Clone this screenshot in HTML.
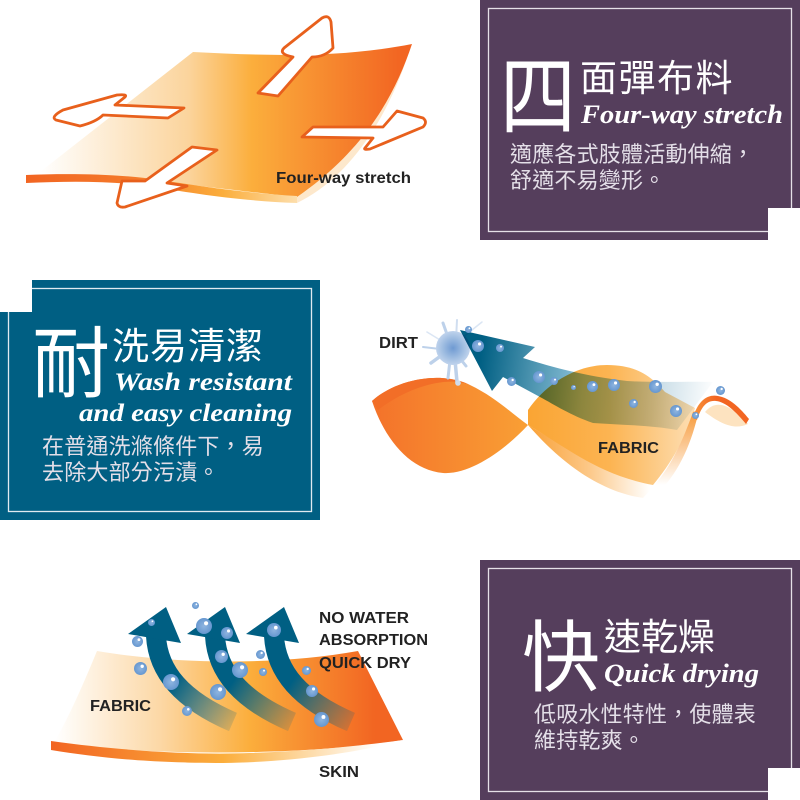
<!DOCTYPE html>
<html lang="zh-TW"><head><meta charset="utf-8"><style>
html,body{margin:0;padding:0;background:#fff}
svg{display:block}
.cjk{font-family:"Liberation Sans","Noto Sans CJK TC",sans-serif;fill:#fff}
.en{font-family:"Liberation Serif",serif;font-style:italic;font-weight:bold;fill:#fff}
.lb{font-family:"Liberation Sans",sans-serif;font-weight:bold;font-size:16px;fill:#222}
.body{font-size:22px;letter-spacing:.2px;fill:#e4dfe8}
</style></head><body>
<svg width="800" height="800" viewBox="0 0 800 800" xmlns="http://www.w3.org/2000/svg">
<defs>
<linearGradient id="g1" gradientUnits="userSpaceOnUse" x1="40" y1="0" x2="412" y2="0">
<stop offset="0" stop-color="#fff"/><stop offset=".4" stop-color="#fbd49c"/><stop offset=".57" stop-color="#fbae3c"/><stop offset=".97" stop-color="#f26522"/></linearGradient>
<linearGradient id="g1b" gradientUnits="userSpaceOnUse" x1="26" y1="0" x2="300" y2="0">
<stop offset="0" stop-color="#f26522"/><stop offset=".4" stop-color="#f47a2a"/><stop offset=".72" stop-color="#fbae3c"/><stop offset="1" stop-color="#fde0b0"/></linearGradient>
<linearGradient id="g2" gradientUnits="userSpaceOnUse" x1="372" y1="0" x2="530" y2="0">
<stop offset="0" stop-color="#f4722a"/><stop offset="1" stop-color="#f9a035"/></linearGradient>
<linearGradient id="g2r" gradientUnits="userSpaceOnUse" x1="530" y1="0" x2="690" y2="0">
<stop offset="0" stop-color="#faa534"/><stop offset=".5" stop-color="#fcb452"/><stop offset="1" stop-color="#fddcae"/></linearGradient>
<linearGradient id="g2b" gradientUnits="userSpaceOnUse" x1="528" y1="0" x2="650" y2="0">
<stop offset="0" stop-color="#f9a035"/><stop offset=".5" stop-color="#fcc888"/><stop offset="1" stop-color="#fff"/></linearGradient>
<linearGradient id="g2e" gradientUnits="userSpaceOnUse" x1="0" y1="485" x2="0" y2="412">
<stop offset="0" stop-color="#fff"/><stop offset="1" stop-color="#f79a3a"/></linearGradient>
<linearGradient id="g2s" gradientUnits="userSpaceOnUse" x1="695" y1="0" x2="748" y2="0">
<stop offset="0" stop-color="#f7903a"/><stop offset=".4" stop-color="#f26522"/></linearGradient>
<linearGradient id="ga" gradientUnits="userSpaceOnUse" x1="480" y1="360" x2="715" y2="390">
<stop offset="0" stop-color="#005f83"/><stop offset=".22" stop-color="#4a92ae"/><stop offset=".45" stop-color="#8fc4dc"/><stop offset=".75" stop-color="#c7dce6"/><stop offset="1" stop-color="#fff"/></linearGradient>
<linearGradient id="g3" gradientUnits="userSpaceOnUse" x1="55" y1="0" x2="403" y2="0">
<stop offset="0" stop-color="#fff"/><stop offset=".3" stop-color="#fcd8a6"/><stop offset=".56" stop-color="#fbae3c"/><stop offset=".92" stop-color="#f26522"/></linearGradient>
<linearGradient id="g3s" gradientUnits="userSpaceOnUse" x1="51" y1="0" x2="395" y2="0">
<stop offset="0" stop-color="#f26522"/><stop offset=".5" stop-color="#fbae3c"/><stop offset=".95" stop-color="#fff"/></linearGradient>
<linearGradient id="a1" gradientUnits="userSpaceOnUse" x1="175" y1="680" x2="237" y2="722">
<stop offset="0" stop-color="#005f83"/><stop offset="1" stop-color="#005f83" stop-opacity=".12"/></linearGradient>
<linearGradient id="a2" gradientUnits="userSpaceOnUse" x1="234" y1="680" x2="296" y2="722">
<stop offset="0" stop-color="#005f83"/><stop offset="1" stop-color="#005f83" stop-opacity=".12"/></linearGradient>
<linearGradient id="a3" gradientUnits="userSpaceOnUse" x1="293" y1="680" x2="355" y2="722">
<stop offset="0" stop-color="#005f83"/><stop offset="1" stop-color="#005f83" stop-opacity=".12"/></linearGradient>
<radialGradient id="sp" gradientUnits="userSpaceOnUse" cx="453" cy="348" r="18">
<stop offset="0" stop-color="#6f9ad2"/><stop offset=".6" stop-color="#a2bfe2"/><stop offset="1" stop-color="#c4d6ee"/></radialGradient>
<radialGradient id="b" cx=".5" cy=".5" r=".55">
<stop offset="0" stop-color="#8fb5e0"/><stop offset="1" stop-color="#6294ce"/></radialGradient>
<symbol id="bu" viewBox="-10 -10 20 20" overflow="visible">
<circle r="10" fill="url(#b)"/><circle cx="2.600" cy="-3.400" r="2.600" fill="#fff"/>
</symbol>
</defs>

<!-- Panels -->
<rect x="480" y="0" width="320" height="240" fill="#553e5c"/>
<rect x="488.500" y="8.500" width="303" height="223" fill="none" stroke="#e6e1e8" stroke-width="1.300"/>
<rect x="768" y="208" width="32" height="32" fill="#fff"/>

<rect x="0" y="280" width="320" height="240" fill="#005f83"/>
<rect x="8.500" y="288.500" width="303" height="223" fill="none" stroke="#dfeaf0" stroke-width="1.300"/>
<rect x="0" y="280" width="32" height="32" fill="#fff"/>

<rect x="480" y="560" width="320" height="240" fill="#553e5c"/>
<rect x="488.500" y="568.500" width="303" height="223" fill="none" stroke="#e6e1e8" stroke-width="1.300"/>
<rect x="768" y="768" width="32" height="32" fill="#fff"/>

<!-- Panel 1 text -->
<text class="cjk" transform="translate(500,128) scale(.95,1.100)" font-size="80">四</text>
<text class="cjk" x="580" y="91" font-size="37" letter-spacing="1.500">面彈布料</text>
<text class="en" x="581" y="123" font-size="26.500" textLength="202" lengthAdjust="spacingAndGlyphs">Four-way stretch</text>
<text class="cjk body" x="510" y="162">適應各式肢體活動伸縮，</text>
<text class="cjk body" x="510" y="188">舒適不易變形。</text>

<!-- Panel 3 text -->
<text class="cjk" x="32" y="391" font-size="78">耐</text>
<text class="cjk" x="112" y="359" font-size="37" letter-spacing="1">洗易清潔</text>
<text class="en" x="114" y="390" font-size="25.500" textLength="178" lengthAdjust="spacingAndGlyphs">Wash resistant</text>
<text class="en" x="79" y="421" font-size="25.500" textLength="213" lengthAdjust="spacingAndGlyphs">and easy cleaning</text>
<text class="cjk body" x="42" y="454">在普通洗滌條件下，易</text>
<text class="cjk body" x="42" y="480">去除大部分污漬。</text>

<!-- Panel 4 text -->
<text class="cjk" x="522" y="685" font-size="78">快</text>
<text class="cjk" x="604" y="650" font-size="37" letter-spacing="0">速乾燥</text>
<text class="en" x="604" y="682" font-size="26" textLength="155" lengthAdjust="spacingAndGlyphs">Quick drying</text>
<text class="cjk body" x="534" y="722">低吸水性特性，使體表</text>
<text class="cjk body" x="534" y="748">維持乾爽。</text>

<!-- Diagram 1 -->
<path d="M297,196 L297,203 C345,180 385,125 408,55 L380,100 Z" fill="#fde8cc"/>
<path d="M193,52 C270,56 340,58 412,44 C395,95 365,150 297,197 C230,190 170,182 130,178 C100,176 70,176 40,172 Z" fill="url(#g1)"/>
<path d="M26,175 C70,173 120,174 160,180 L200,186 C235,191 265,194 297,196 L297,203 C240,201 190,193 150,186 C110,181 70,181 26,183 Z" fill="url(#g1b)"/>
<g fill="#fff" stroke="#e8601c" stroke-width="2.800" stroke-linejoin="round">
<path d="M258,93 L278,96 L312,57 Q325,57 333,48 L331,22 Q329,14 322,18 L284,48 Q278,54 293,57 Z"/>
<path d="M184,108 L168,118 L103,115 Q96,122 80,126 L56,120 Q50,117 63,110 L117,95 Q128,94 125,97 L115,105 Z"/>
<path d="M302,137 L313,127 L383,127 L397,111 L423,118 Q428,122 423,127 L370,149 Q363,150 365,148 L373,138 Z"/>
<path d="M217,150 L192,147 L145,181 L122,181 L117,203 Q118,208 125,207 L187,186 L167,183 Z"/>
</g>
<text class="lb" x="276" y="183" textLength="135" lengthAdjust="spacingAndGlyphs">Four-way stretch</text>

<!-- Diagram 2 fabric -->
<path d="M528,425 C550,450 590,490 643,498 L655,485 C610,475 570,450 528,425 Z" fill="url(#g2b)"/>
<path d="M528,410 C545,385 575,365 607,365 C635,365 650,375 665,392 L695,408 C688,435 670,465 653,485 C600,475 570,450 528,425 Z" fill="url(#g2r)"/>
<path d="M653,487 C672,465 683,440 693,412 L699,410 C692,442 680,470 660,491 Z" fill="url(#g2e)"/>
<path d="M372,401 C395,380 440,370 470,385 C495,397 510,412 528,425 C505,450 470,475 443,473 C410,470 385,440 372,401 Z" fill="url(#g2)"/>
<path d="M372,401 C395,380 440,370 470,385 C450,376 410,385 378,410 Z" fill="#f26e27"/>
<path d="M705,412 C715,400 728,402 748,424 C735,430 722,425 705,412 Z" fill="#fde3c0"/>
<path d="M693,418 C698,400 708,394 718,396 C730,398 740,408 749,419 L746,424 C736,412 726,402 716,401 C706,400 701,408 697,420 Z" fill="url(#g2s)"/>

<!-- splat -->
<g stroke="#bdd1ea" stroke-linecap="round" fill="none">
<path d="M427,332 L445,343" stroke="#dbe6f4" stroke-width="1.500"/>
<path d="M443,323 L449,340" stroke-width="3"/>
<path d="M457,320 L456,340" stroke="#d0def0" stroke-width="2"/>
<path d="M482,322 L462,338" stroke="#dbe6f4" stroke-width="1.500"/>
<path d="M423,347 L440,349" stroke-width="2"/>
<path d="M431,363 L442,355" stroke-width="3.500"/>
<path d="M448,378 L450,360" stroke-width="3"/>
<path d="M457,382 L455,360" stroke-width="3.500"/>
<path d="M466,366 L458,356" stroke-width="3"/>
</g>
<circle cx="458" cy="383" r="2.800" fill="#cfdcec"/>
<circle cx="453" cy="348" r="17" fill="url(#sp)"/>

<!-- Diagram 2 arrow -->
<path d="M460,330 L535,347 L523,358 C555,368 585,376 627,381 C660,383 690,381 713,382 L677,430 C650,425 620,425 593,423 C570,415 555,405 540,397 L503,377 L492,391 Z" fill="url(#ga)" style="mix-blend-mode:multiply"/>

<!-- Diagram 3 -->
<path d="M97,651 C180,665 280,665 358,651 L403,740 C310,756 130,757 55,741 C70,715 85,680 97,651 Z" fill="url(#g3)"/>
<path d="M51,741 C130,752 200,755 250,753 C310,751 360,746 403,740 C370,750 300,762 223,763 C150,763 100,758 51,750 Z" fill="url(#g3s)"/>
<g fill="none" stroke-width="20">
<path d="M156,636 C158,672 182,700 233,722" stroke="url(#a1)"/>
<path d="M215,636 C217,672 241,700 292,722" stroke="url(#a2)"/>
<path d="M274,636 C276,672 300,700 351,722" stroke="url(#a3)"/>
</g>
<g fill="#005f83">
<path d="M166,607 L128,634 L181,643 Z"/>
<path d="M225,607 L187,634 L240,643 Z"/>
<path d="M284,607 L246,634 L299,643 Z"/>
</g>

<!-- bubbles diag 2 -->
<use href="#bu" x="465" y="326" width="7" height="7"/>
<use href="#bu" x="472" y="340" width="12" height="12"/>
<use href="#bu" x="496" y="344" width="8" height="8"/>
<use href="#bu" x="507" y="377" width="9" height="9"/>
<use href="#bu" x="533" y="371" width="12" height="12"/>
<use href="#bu" x="550" y="377" width="8" height="8"/>
<use href="#bu" x="571" y="385" width="5" height="5"/>
<use href="#bu" x="587" y="381" width="11" height="11"/>
<use href="#bu" x="608" y="379" width="12" height="12"/>
<use href="#bu" x="649" y="380" width="13" height="13"/>
<use href="#bu" x="629" y="399" width="9" height="9"/>
<use href="#bu" x="670" y="405" width="12" height="12"/>
<use href="#bu" x="692" y="412" width="7" height="7"/>
<use href="#bu" x="716" y="386" width="9" height="9"/>

<!-- bubbles diag 3 -->
<use href="#bu" x="192" y="602" width="7" height="7"/>
<use href="#bu" x="148" y="619" width="7" height="7"/>
<use href="#bu" x="132" y="636" width="11" height="11"/>
<use href="#bu" x="134" y="662" width="13" height="13"/>
<use href="#bu" x="163" y="674" width="16" height="16"/>
<use href="#bu" x="182" y="706" width="10" height="10"/>
<use href="#bu" x="196" y="618" width="16" height="16"/>
<use href="#bu" x="221" y="627" width="12" height="12"/>
<use href="#bu" x="215" y="650" width="13" height="13"/>
<use href="#bu" x="232" y="662" width="16" height="16"/>
<use href="#bu" x="210" y="684" width="16" height="16"/>
<use href="#bu" x="256" y="650" width="9" height="9"/>
<use href="#bu" x="259" y="668" width="8" height="8"/>
<use href="#bu" x="267" y="623" width="14" height="14"/>
<use href="#bu" x="302" y="666" width="9" height="9"/>
<use href="#bu" x="306" y="685" width="12" height="12"/>
<use href="#bu" x="314" y="712" width="15" height="15"/>

<!-- labels -->
<text class="lb" x="379" y="348" textLength="39" lengthAdjust="spacingAndGlyphs">DIRT</text>
<text class="lb" x="598" y="453" textLength="61" lengthAdjust="spacingAndGlyphs">FABRIC</text>
<text class="lb" x="319" y="623" textLength="90" lengthAdjust="spacingAndGlyphs">NO WATER</text>
<text class="lb" x="319" y="645" textLength="109" lengthAdjust="spacingAndGlyphs">ABSORPTION</text>
<text class="lb" x="319" y="668" textLength="92" lengthAdjust="spacingAndGlyphs">QUICK DRY</text>
<text class="lb" x="90" y="711" textLength="61" lengthAdjust="spacingAndGlyphs">FABRIC</text>
<text class="lb" x="319" y="777" textLength="40" lengthAdjust="spacingAndGlyphs">SKIN</text>
</svg>
</body></html>
